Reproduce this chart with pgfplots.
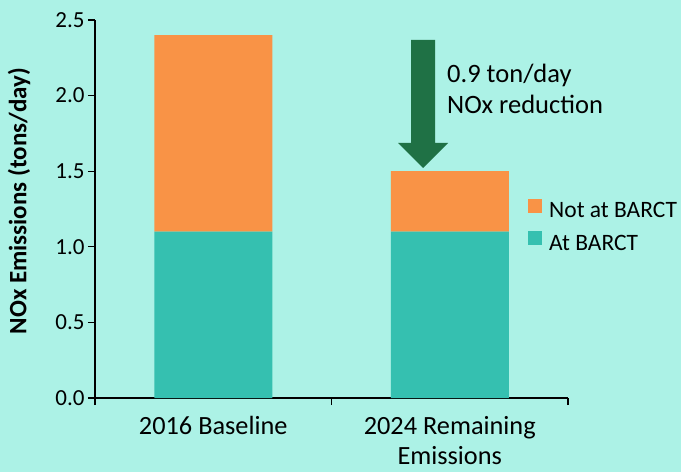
\documentclass[border=0pt]{standalone}
\usepackage{pgfplots}
\pgfplotsset{compat=1.18}
\usepackage{fontspec}
\setmainfont{Carlito}
\definecolor{bg}{RGB}{172,242,230}
\definecolor{orng}{RGB}{249,147,70}
\definecolor{teal2}{RGB}{53,192,176}
\definecolor{arrowgreen}{RGB}{31,113,69}
\begin{document}
\begin{tikzpicture}[x=1pt,y=1pt]
\fill[bg] (0,0) rectangle (681,472);
\useasboundingbox (0,0) rectangle (681,472);
\begin{axis}[
  at={(95pt,74pt)}, anchor=south west,
  scale only axis, width=473pt, height=378pt,
  xmin=-0.5, xmax=1.5, ymin=0, ymax=2.5,
  ybar stacked, bar width=118pt,
  axis x line*=bottom, axis y line*=left,
  axis line style={line width=1.2pt, black},
  tick align=outside, major tick length=7pt,
  xtick={0,1}, xticklabels={2016 Baseline, {2024 Remaining\\Emissions}},
  xticklabel style={align=center, font=\fontsize{26.3}{30}\selectfont, yshift=-8pt},
  xtick style={draw=none},
  extra x ticks={-0.5,0.5,1.5}, extra x tick labels={},
  extra x tick style={xtick style={draw=black, line width=1.2pt}},
  ytick={0,0.5,1,1.5,2,2.5},
  ytick style={draw=black, line width=1.2pt},
  yticklabel style={/pgf/number format/.cd, fixed, fixed zerofill, precision=1, assume math mode=true, /tikz/.cd, font=\fontsize{23}{28}\selectfont},
  ylabel={\bfseries NOx Emissions (tons/day)},
  every axis y label/.style={at={(axis description cs:-0.1607,0.521)}, rotate=90, anchor=center, font=\fontsize{25}{30}\selectfont},
  reverse legend,
  legend style={draw=none, fill=none, at={(axis description cs:0.9154,0.527)}, anchor=north west, font=\fontsize{23.5}{28}\selectfont, row sep=12pt, column sep=7pt, inner sep=0pt, nodes={inner sep=0pt}},
  legend cell align=left,
]
\addplot[fill=teal2, draw=none, legend image code/.code={\fill[teal2] (0pt,-2pt) rectangle (14pt,12pt);}] coordinates {(0,1.1) (1,1.1)};
\addlegendentry{At BARCT}
\addplot[fill=orng, draw=none, legend image code/.code={\fill[orng] (0pt,-2pt) rectangle (14pt,12pt);}] coordinates {(0,1.3) (1,0.4)};
\addlegendentry{Not at BARCT}
\end{axis}
% annotation arrow
\fill[arrowgreen] (411,432) -- (435,432) -- (435,329) -- (448,329) -- (423,304) -- (398,329) -- (411,329) -- cycle;
\node[anchor=base west, align=left, inner sep=0pt, font=\fontsize{26.5}{31}\selectfont] at (447,358) {0.9 ton/day\\NOx reduction};
\end{tikzpicture}
\end{document}
